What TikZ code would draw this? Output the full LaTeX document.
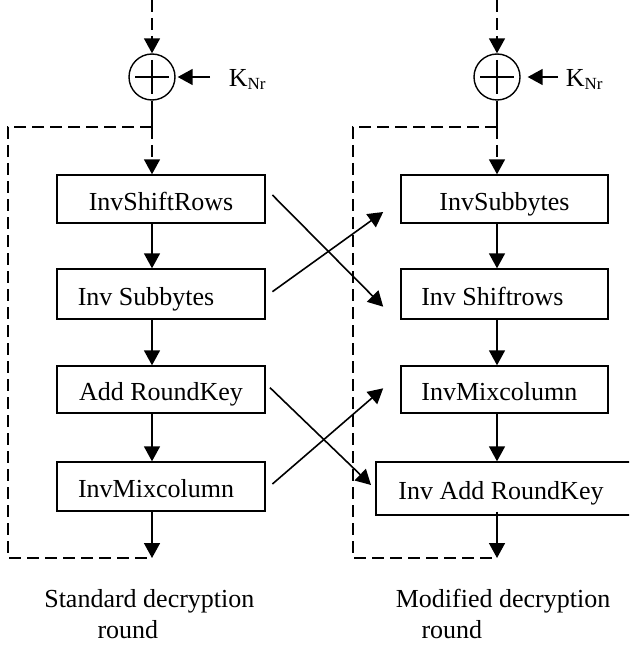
\documentclass[tikz,border=0pt]{standalone}
\usepackage{fontspec}
\setmainfont{Liberation Serif}
\usetikzlibrary{arrows.meta}

\begin{document}
\begin{tikzpicture}[x=1pt,y=-1pt,
  line width=1.6pt,
  >={Triangle[length=15pt,width=16pt]},
  stage/.style={draw, rectangle, line width=1.4pt, minimum height=48pt,
    minimum width=208pt, inner sep=0pt, text height=22pt, text depth=0pt,
    font=\fontsize{26}{30}\selectfont},
  xorgate/.style={draw, circle, line width=1.4pt, minimum size=46pt, inner sep=0pt},
  feedback/.style={dash pattern=on 12pt off 6pt},
  caption/.style={anchor=base west, inner sep=0pt, font=\fontsize{26}{30}\selectfont},
  keytext/.style={anchor=base west, inner sep=0pt, font=\fontsize{26}{30}\selectfont},
]
\path[use as bounding box, clip] (0,0) rectangle (629,647);

% column axes
\coordinate (lc) at (152,0);
\coordinate (rc) at (497,0);

% ---------- standard decryption round ----------
\node[xorgate] (xl) at (152,77) {};
\draw ([xshift=-17pt]xl.center) -- ([xshift=17pt]xl.center);
\draw ([yshift=17pt]xl.center) -- ([yshift=-17pt]xl.center);
\coordinate (inl) at (152,0);
\draw[feedback,->] (inl) -- (xl.north);
\coordinate (kl) at (210,77);
\draw[->,shorten >=2pt] (kl) -- (xl.east);
\node[keytext] (kln) at (228,87) {K\raisebox{-3pt}{\fontsize{17}{17}\selectfont Nr}};

\node[stage] (L1) at (161,199) {InvShiftRows};
\node[stage, minimum height=50pt] (L2) at (161,294) {Inv Subbytes\hspace*{30pt}};
\node[stage, minimum height=47pt] (L3) at (161,389.5) {Add RoundKey};
\node[stage, minimum height=49pt] (L4) at (161,486.5) {InvMixcolumn\hspace*{10pt}};

\coordinate (jl) at (152,127);
\coordinate (el) at (152,558);
\draw (xl.south) -- (jl);
\draw[feedback,->] (jl) -- (L1.north -| lc);
\draw[feedback] (jl) -- (8,127) -- (8,558) -- (el);
\draw[->] (L1.south -| lc) -- (L2.north -| lc);
\draw[->] (L2.south -| lc) -- (L3.north -| lc);
\draw[->] (L3.south -| lc) -- (L4.north -| lc);
\draw[->] (L4.south -| lc) -- (el);

% ---------- modified decryption round ----------
\node[xorgate] (xr) at (497,77) {};
\draw ([xshift=-17pt]xr.center) -- ([xshift=17pt]xr.center);
\draw ([yshift=17pt]xr.center) -- ([yshift=-17pt]xr.center);
\coordinate (inr) at (497,0);
\draw[feedback,->] (inr) -- (xr.north);
\coordinate (kr) at (558,77);
\draw[->,shorten >=7pt] (kr) -- (xr.east);
\node[keytext] (krn) at (565,87) {K\raisebox{-3pt}{\fontsize{17}{17}\selectfont Nr}};

\node[stage, minimum width=207pt] (R1) at (504.4,199) {InvSubbytes};
\node[stage, minimum width=207pt, minimum height=50pt] (R2) at (504.4,294) {Inv Shiftrows\hspace*{24pt}};
\node[stage, minimum width=207pt, minimum height=47pt] (R3) at (504.4,389.5) {InvMixcolumn\hspace*{10pt}};
\node[stage, minimum width=270pt, minimum height=53pt] (R4) at (511,488.5) {Inv Add RoundKey\hspace*{20pt}};

\coordinate (jr) at (497,127);
\coordinate (er) at (497,558);
\draw (xr.south) -- (jr);
\draw[feedback,->] (jr) -- (R1.north -| rc);
\draw[feedback] (jr) -- (353,127) -- (353,558) -- (er);
\draw[->] (R1.south -| rc) -- (R2.north -| rc);
\draw[->] (R2.south -| rc) -- (R3.north -| rc);
\draw[->] (R3.south -| rc) -- (R4.north -| rc);
\draw[->] ([yshift=4pt]R4.south -| rc) -- (er);

% ---------- reordering between the two rounds ----------
\draw[->] ([shift={(6.7,-4)}]L1.east) -- ([shift={(-17,12.7)}]R2.west);
\draw[->] ([shift={(6.7,-2.3)}]L2.east) -- ([shift={(-17,13)}]R1.west);
\draw[->] ([shift={(4.3,-1.8)}]L3.east) -- ([shift={(-4.3,-3.5)}]R4.west);
\draw[->] ([shift={(6.7,-2.5)}]L4.east) -- ([shift={(-17,-1.2)}]R3.west);

% ---------- captions ----------
\node[caption] (cap1a) at (43.5,607) {Standard decryption};
\node[caption] (cap1b) at (96.7,638) {round};
\node[caption] (cap2a) at (395,607) {Modified decryption};
\node[caption] (cap2b) at (420.7,638) {round};
\end{tikzpicture}
\end{document}
